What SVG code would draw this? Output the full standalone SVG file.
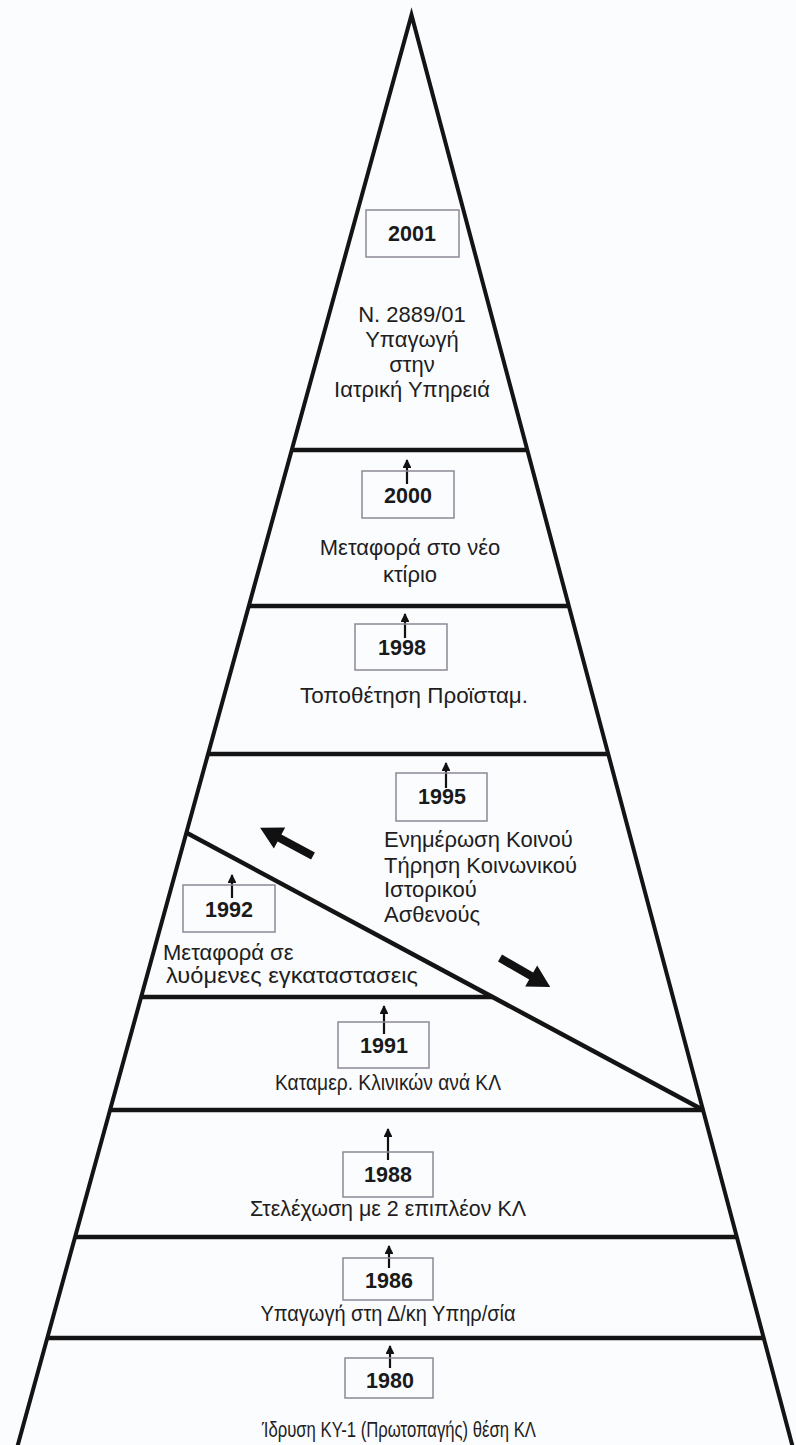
<svg xmlns="http://www.w3.org/2000/svg" width="796" height="1445" viewBox="0 0 796 1445">
<defs>
<style>
.edge{stroke:#141414;stroke-width:4;fill:none;stroke-linecap:round}
.div{stroke:#141414;stroke-width:4.5;fill:none}
.box{fill:none;stroke:#8e8896;stroke-width:1.5}
.yr{font-family:"Liberation Sans",Arial,sans-serif;font-weight:bold;font-size:21.5px;fill:#1a1a1a;text-anchor:middle}
.t{font-family:"Liberation Sans",Arial,sans-serif;font-size:22px;fill:#1e1e1e;text-anchor:middle}
.tl{font-family:"Liberation Sans",Arial,sans-serif;font-size:22px;fill:#1e1e1e}
.up{stroke:#111;stroke-width:2.2;fill:none;marker-end:url(#ah)}
.big{fill:#111}
</style>
<marker id="ah" viewBox="0 0 10 10" refX="9" refY="5" markerWidth="4" markerHeight="4" orient="auto" markerUnits="strokeWidth">
<path d="M0,0 L10,5 L0,10 Z" fill="#111"/>
</marker>
</defs>
<rect width="796" height="1445" fill="#fbfcfe"/>

<g id="pyramid">
<path class="edge" d="M17,1448 L411.5,15 L793,1448"/>
<line class="div" x1="291.8" y1="450" x2="527.4" y2="450"/>
<line class="div" x1="248.9" y1="606" x2="568.9" y2="606"/>
<line class="div" x1="208.1" y1="754" x2="608.4" y2="754"/>
<line class="div" x1="141.3" y1="997" x2="492.5" y2="997"/>
<line class="div" x1="110.2" y1="1110" x2="703.2" y2="1110"/>
<line class="div" x1="75.2" y1="1237" x2="737" y2="1237"/>
<line class="div" x1="47.4" y1="1338" x2="763.9" y2="1338"/>
<line class="div" x1="187" y1="833" x2="703.2" y2="1110"/>
</g>

<g id="connectors">
<line class="up" x1="407" y1="484" x2="407" y2="460"/>
<line class="up" x1="405" y1="638" x2="405" y2="614"/>
<line class="up" x1="446" y1="788" x2="446" y2="763"/>
<line class="up" x1="232" y1="898" x2="232" y2="875"/>
<line class="up" x1="384" y1="1034" x2="384" y2="1006"/>
<line class="up" x1="388" y1="1160" x2="388" y2="1129"/>
<line class="up" x1="389" y1="1268" x2="389" y2="1246"/>
<line class="up" x1="390" y1="1368" x2="390" y2="1346"/>
<path class="big" transform="translate(313,856) rotate(208.2)" d="M0,-4 L38,-4 L38,-12 L60,0 L38,12 L38,4 L0,4 Z"/>
<path class="big" transform="translate(500,958) rotate(30)" d="M0,-4 L36,-4 L36,-12 L58,0 L36,12 L36,4 L0,4 Z"/>
</g>

<g id="n2001">
<rect class="box" x="366" y="210" width="93" height="47"/>
<text class="yr" x="412" y="241">2001</text>
<text class="t" x="412" y="322">Ν. 2889/01</text>
<text class="t" x="412" y="347">Υπαγωγή</text>
<text class="t" x="412" y="372">στην</text>
<text class="t" x="412" y="397">Ιατρική Υπηρειά</text>
</g>

<g id="n2000">
<rect class="box" x="362" y="471" width="92" height="47"/>
<text class="yr" x="408" y="503">2000</text>
<text class="t" x="410" y="555">Μεταφορά στο νέο</text>
<text class="t" x="410" y="582">κτίριο</text>
</g>

<g id="n1998">
<rect class="box" x="355" y="624" width="92" height="46"/>
<text class="yr" x="402" y="655">1998</text>
<text class="t" x="414" y="703" textLength="228" lengthAdjust="spacingAndGlyphs">Τοποθέτηση Προϊσταμ.</text>
</g>

<g id="n1995">
<rect class="box" x="396" y="773" width="91" height="48"/>
<text class="yr" x="442" y="804">1995</text>
<text class="tl" x="384" y="847">Ενημέρωση Κοινού</text>
<text class="tl" x="384" y="873">Τήρηση Κοινωνικού</text>
<text class="tl" x="384" y="897">Ιστορικού</text>
<text class="tl" x="384" y="922">Ασθενούς</text>
</g>

<g id="n1992">
<rect class="box" x="183" y="885" width="92" height="47"/>
<text class="yr" x="229" y="917">1992</text>
<text class="tl" x="163" y="960">Μεταφορά σε</text>
<text class="tl" x="166" y="983" textLength="252" lengthAdjust="spacingAndGlyphs">λυόμενες εγκαταστασεις</text>
</g>

<g id="n1991">
<rect class="box" x="338" y="1022" width="91" height="46"/>
<text class="yr" x="384" y="1053">1991</text>
<text class="t" x="388" y="1090" textLength="226" lengthAdjust="spacingAndGlyphs">Καταμερ. Κλινικών ανά ΚΛ</text>
</g>

<g id="n1988">
<rect class="box" x="343" y="1152" width="90" height="45"/>
<text class="yr" x="388" y="1182">1988</text>
<text class="t" x="388" y="1216" textLength="276" lengthAdjust="spacingAndGlyphs">Στελέχωση με 2 επιπλέον ΚΛ</text>
</g>

<g id="n1986">
<rect class="box" x="343" y="1258" width="90" height="42"/>
<text class="yr" x="389" y="1288">1986</text>
<text class="t" x="388" y="1321" textLength="255" lengthAdjust="spacingAndGlyphs">Υπαγωγή στη Δ/κη Υπηρ/σία</text>
</g>

<g id="n1980">
<rect class="box" x="345" y="1358" width="88" height="40"/>
<text class="yr" x="390" y="1388">1980</text>
<text class="t" x="399" y="1437" textLength="274" lengthAdjust="spacingAndGlyphs">Ίδρυση ΚΥ-1 (Πρωτοπαγής) θέση ΚΛ</text>
</g>
</svg>
